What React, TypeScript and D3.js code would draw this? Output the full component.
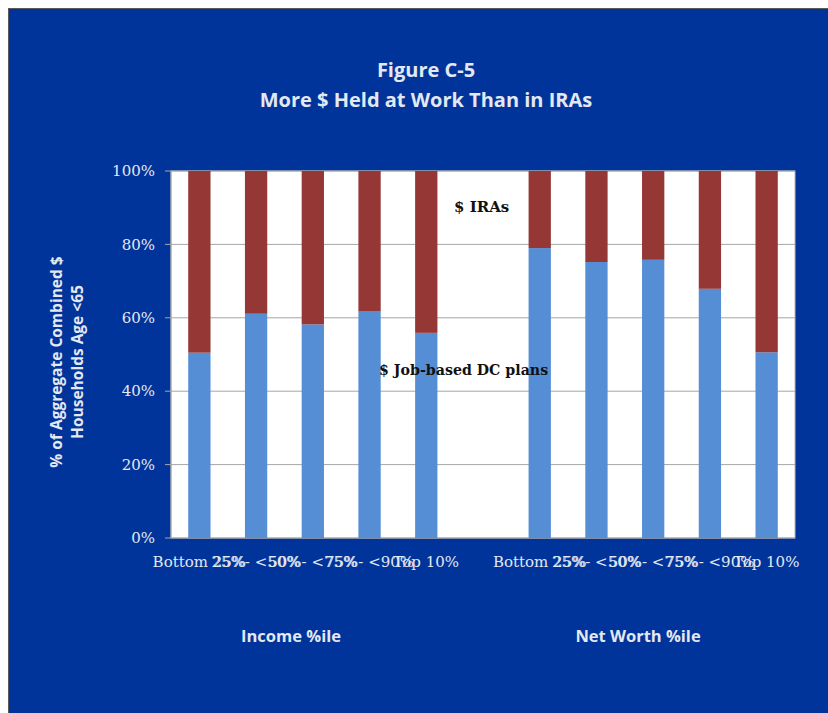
import React, { useEffect } from "react";
import * as d3 from "d3";

const groupNames = ["Income %ile", "Net Worth %ile"];
const categories = ["Bottom 25%", "25%- <50%", "50%- <75%", "75%- <90%", "Top 10%"];
const incomeDC = [50.5, 61.1, 58.2, 61.7, 55.9];
const incomeIRA = [49.5, 38.9, 41.8, 38.3, 44.1];
const netWorthDC = [79.0, 75.2, 75.8, 67.9, 50.6];
const netWorthIRA = [21.0, 24.8, 24.2, 32.1, 49.4];
const yTicks = [0, 20, 40, 60, 80, 100];
const seriesNames = ["$ Job-based DC plans", "$ IRAs"];

const W = 828;
const H = 713;
const plot = { left: 171, right: 795, top: 171, bottom: 538 };

const BG = "#00349b";
const TXT = "#e3e8f1";
const BLUE = "#558ed5";
const RED = "#953735";
const GRID = "#a6a6a6";

type Slot = { id: string; label: string; dc: number; ira: number };

const slots: Slot[] = [
  ...categories.map((c, i) => ({ id: "i" + i, label: c, dc: incomeDC[i], ira: incomeIRA[i] })),
  { id: "gap", label: "", dc: 0, ira: 0 },
  ...categories.map((c, i) => ({ id: "n" + i, label: c, dc: netWorthDC[i], ira: netWorthIRA[i] })),
];

export default function App() {
  useEffect(() => {
    document.body.style.margin = "0";
  }, []);

  const x = d3
    .scaleBand<string>()
    .domain(slots.map((s) => s.id))
    .range([plot.left, plot.right])
    .paddingInner(0.607)
    .paddingOuter(0.3035);
  const y = d3.scaleLinear().domain([0, 100]).range([plot.bottom, plot.top]);

  const serif = "'DejaVu Serif', serif";
  const sans = "'Open Sans', Lato, sans-serif";
  const bars = slots.filter((s) => s.id !== "gap");

  return (
    <svg width={W} height={H} style={{ display: "block" }}>
      <rect x={0} y={0} width={W} height={H} fill="#ffffff" />
      <rect x={8.5} y={8.5} width={W} height={H} fill={BG} stroke="#5a5a5a" strokeWidth={1} />

      <text x={426} y={77} textAnchor="middle" fill={TXT} fontFamily={sans} fontWeight="bold" fontSize={20}>
        Figure C-5
      </text>
      <text x={426} y={107} textAnchor="middle" fill={TXT} fontFamily={sans} fontWeight="bold" fontSize={20}>
        More $ Held at Work Than in IRAs
      </text>

      <rect
        x={plot.left}
        y={plot.top}
        width={plot.right - plot.left}
        height={plot.bottom - plot.top}
        fill="#ffffff"
        stroke="#b8b8b8"
        strokeWidth={1}
      />

      {yTicks.map((t) => (
        <g key={t}>
          <line x1={plot.left} x2={plot.right} y1={y(t)} y2={y(t)} stroke={GRID} strokeWidth={1} />
          <line x1={plot.left - 6} x2={plot.left} y1={y(t)} y2={y(t)} stroke={GRID} strokeWidth={1} />
          <text
            x={155}
            y={y(t)}
            dy="0.35em"
            textAnchor="end"
            fill={TXT}
            fontFamily={serif}
            fontSize={15}
          >
            {t + "%"}
          </text>
        </g>
      ))}
      <line x1={plot.left} x2={plot.left} y1={plot.top} y2={plot.bottom} stroke={GRID} strokeWidth={1} />

      {bars.map((s) => (
        <g key={s.id}>
          <rect x={x(s.id)} y={y(s.dc)} width={x.bandwidth()} height={y(0) - y(s.dc)} fill={BLUE} />
          <rect
            x={x(s.id)}
            y={y(s.dc + s.ira)}
            width={x.bandwidth()}
            height={y(s.dc) - y(s.dc + s.ira)}
            fill={RED}
          />
        </g>
      ))}

      {bars.map((s) => (
        <text
          key={"l" + s.id}
          x={(x(s.id) as number) + x.bandwidth() / 2}
          y={567}
          textAnchor="middle"
          fill={TXT}
          fontFamily={serif}
          fontSize={15}
        >
          {s.label}
        </text>
      ))}

      <text x={454} y={212} fill="#111" fontFamily={serif} fontWeight="bold" fontSize={15}>
        {seriesNames[1]}
      </text>
      <text x={379} y={375} fill="#111" fontFamily={serif} fontWeight="bold" fontSize={14.2}>
        {seriesNames[0]}
      </text>

      <text x={291} y={642} textAnchor="middle" fill={TXT} fontFamily={sans} fontWeight="bold" fontSize={16.5}>
        {groupNames[0]}
      </text>
      <text x={638} y={642} textAnchor="middle" fill={TXT} fontFamily={sans} fontWeight="bold" fontSize={16.5}>
        {groupNames[1]}
      </text>

      <g transform={`translate(67, 362) rotate(-90)`}>
        <text x={0} y={-5} textAnchor="middle" fill={TXT} fontFamily={sans} fontWeight="bold" fontSize={15.5}>
          % of Aggregate Combined $
        </text>
        <text x={0} y={16} textAnchor="middle" fill={TXT} fontFamily={sans} fontWeight="bold" fontSize={15.5}>
          Households Age &lt;65
        </text>
      </g>
    </svg>
  );
}
